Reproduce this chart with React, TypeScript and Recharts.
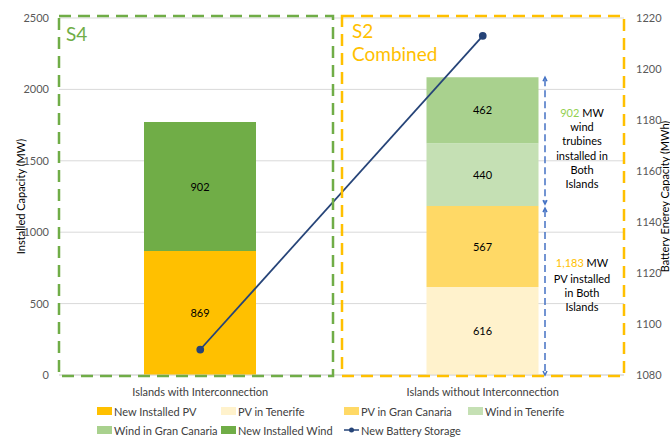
import { ComposedChart, Bar, Line, XAxis, YAxis, CartesianGrid, LabelList } from 'recharts'

const categories = ['Islands with Interconnection', 'Islands without Interconnection']
const newPV = [869, null]
const pvTenerife = [null, 616]
const pvGranCanaria = [null, 567]
const windTenerife = [null, 440]
const windGranCanaria = [null, 462]
const newWind = [902, null]
const battery = [1090, 1213]

const capacityTicks = [0, 500, 1000, 1500, 2000, 2500]
const storageTicks = [1080, 1100, 1120, 1140, 1160, 1180, 1200, 1220]

const W = 670
const H = 437
const PLOT = { left: 59, right: 624, top: 18, bottom: 375 }
const FONT = "Lato, 'Open Sans', sans-serif"

const data = categories.map((name, i) => ({
  name,
  newPV: newPV[i],
  pvTenerife: pvTenerife[i],
  pvGranCanaria: pvGranCanaria[i],
  windTenerife: windTenerife[i],
  windGranCanaria: windGranCanaria[i],
  newWind: newWind[i],
  battery: battery[i],
}))

const series = [
  { key: 'newPV', name: 'New Installed PV', color: '#FFC000' },
  { key: 'pvTenerife', name: 'PV in Tenerife', color: '#FFF2CC' },
  { key: 'pvGranCanaria', name: 'PV in Gran Canaria', color: '#FFD966' },
  { key: 'windTenerife', name: 'Wind in Tenerife', color: '#C5E0B4' },
  { key: 'windGranCanaria', name: 'Wind in Gran Canaria', color: '#A9D18E' },
  { key: 'newWind', name: 'New Installed Wind', color: '#70AD47' },
]
const LINE_COLOR = '#264478'

// legend slots, four on the first row and three on the second
const legendOrder = ['newPV', 'pvTenerife', 'pvGranCanaria', 'windTenerife', 'windGranCanaria', 'newWind', 'battery']
const legendX = [97, 221, 344, 468]

const tickStyle = { fill: '#595959', fontSize: 11, fontFamily: FONT }

const valueLabel = (p: any) => {
  if (!p.value) return null
  return (
    <text x={p.x + p.width / 2} y={p.y + p.height / 2} dy={4} textAnchor="middle" fontSize={11} fill="#000" fontFamily={FONT}>
      {p.value}
    </text>
  )
}

const AxisTitle = ({ viewBox, title, px }: any) => {
  const cy = viewBox.y + viewBox.height / 2
  return (
    <text x={px} y={cy} transform={`rotate(-90 ${px} ${cy})`} textAnchor="middle" dominantBaseline="central" fontSize={11} fill="#000" fontFamily={FONT}>
      {title}
    </text>
  )
}

const toY = (v: number) => PLOT.bottom - (v / 2500) * (PLOT.bottom - PLOT.top)

const windSum = (windTenerife[1] ?? 0) + (windGranCanaria[1] ?? 0)
const pvSum = (pvTenerife[1] ?? 0) + (pvGranCanaria[1] ?? 0)

function Arrow({ x, y1, y2 }: { x: number; y1: number; y2: number }) {
  return (
    <g stroke="#4472C4" strokeWidth={1.5} fill="none">
      <line x1={x} y1={y1 + 2} x2={x} y2={y2 - 2} strokeDasharray="7 4" />
      <path d={`M${x - 2},${y1 + 4} L${x},${y1} L${x + 2},${y1 + 4}`} />
      <path d={`M${x - 2},${y2 - 4} L${x},${y2} L${x + 2},${y2 - 4}`} />
    </g>
  )
}

function Overlay() {
  const t = { fontSize: 11, fontFamily: FONT, fill: '#000', textAnchor: 'middle' as const }
  const ax = 545
  const cx = 582
  return (
    <svg width={W} height={H} style={{ position: 'absolute', left: 0, top: 0, pointerEvents: 'none' }}>
      <rect x={59} y={16} width={274} height={360} fill="none" stroke="#70AD47" strokeWidth={2.5} strokeDasharray="12 7" />
      <rect x={342} y={16} width={282} height={360} fill="none" stroke="#FFC000" strokeWidth={2.5} strokeDasharray="12 7" />
      <text x={66} y={41} fontSize={19} fontFamily={FONT} fill="#70AD47">S4</text>
      <text x={352} y={38} fontSize={19} fontFamily={FONT} fill="#FFC000">S2</text>
      <text x={352} y={61} fontSize={19} fontFamily={FONT} fill="#FFC000">Combined</text>

      <Arrow x={ax} y1={toY(pvSum + windSum)} y2={toY(pvSum) - 2} />
      <Arrow x={ax} y1={toY(pvSum) + 2} y2={toY(0)} />

      <text {...t} x={cx} y={117}>
        <tspan fill="#92D050">{windSum}</tspan> MW
      </text>
      <text {...t} x={cx} y={131}>wind</text>
      <text {...t} x={cx} y={145}>trubines</text>
      <text {...t} x={cx} y={160}>installed in</text>
      <text {...t} x={cx} y={174}>Both</text>
      <text {...t} x={cx} y={188}>Islands</text>

      <text {...t} x={cx} y={267}>
        <tspan fill="#FFC000">{pvSum.toLocaleString('en-US')}</tspan> MW
      </text>
      <text {...t} x={cx} y={283}>PV installed</text>
      <text {...t} x={cx} y={297}>in Both</text>
      <text {...t} x={cx} y={311}>Islands</text>
    </svg>
  )
}

function ChartLegend() {
  return (
    <div style={{ position: 'absolute', left: 0, top: 0, width: W, height: H, pointerEvents: 'none' }}>
      {legendOrder.map((key, i) => {
        const row = i < 4 ? 0 : 1
        const col = i < 4 ? i : i - 4
        const s = series.find((d) => d.key === key)
        const label = s ? s.name : 'New Battery Storage'
        return (
          <div
            key={key}
            style={{
              position: 'absolute',
              left: legendX[col],
              top: 404 + row * 19,
              height: 14,
              display: 'flex',
              alignItems: 'center',
              fontFamily: FONT,
              fontSize: 11,
              color: '#404040',
              whiteSpace: 'nowrap',
            }}
          >
            {s ? (
              <span style={{ width: 15, height: 8, background: s.color, marginRight: 2 }} />
            ) : (
              <svg width={15} height={8} style={{ marginRight: 2 }}>
                <line x1={0} y1={4} x2={15} y2={4} stroke={LINE_COLOR} strokeWidth={1.5} />
                <circle cx={7.5} cy={4} r={2.5} fill={LINE_COLOR} />
              </svg>
            )}
            {label}
          </div>
        )
      })}
    </div>
  )
}

export default function App() {
  return (
    <div style={{ position: 'absolute', left: 0, top: 0, width: W, height: H, background: '#fff', fontFamily: FONT }}>
      <ComposedChart
        width={W}
        height={H}
        data={data}
        margin={{ top: PLOT.top, right: W - PLOT.right - 46, bottom: 44, left: 0 }}
        barSize={112}
      >
        <CartesianGrid yAxisId="left" vertical={false} stroke="#D9D9D9" />
        <XAxis
          dataKey="name"
          height={H - 44 - PLOT.bottom}
          tick={{ ...tickStyle, fill: '#404040' }}
          tickLine={false}
          axisLine={{ stroke: '#D9D9D9' }}
          tickMargin={7}
        />
        <YAxis
          yAxisId="left"
          width={PLOT.left}
          domain={[0, 2500]}
          ticks={capacityTicks}
          tick={tickStyle}
          tickLine={false}
          axisLine={false}
          tickMargin={4}
          label={<AxisTitle title="Installed Capacity (MW)" px={20} />}
        />
        <YAxis
          yAxisId="right"
          orientation="right"
          width={46}
          domain={[1080, 1220]}
          ticks={storageTicks}
          tick={tickStyle}
          tickLine={false}
          axisLine={false}
          tickMargin={6}
          label={<AxisTitle title="Battery Enerey Capacity (MWh)" px={664} />}
        />
        {series.map((s) => (
          <Bar key={s.key} yAxisId="left" dataKey={s.key} name={s.name} stackId="cap" fill={s.color} isAnimationActive={false}>
            <LabelList dataKey={s.key} content={valueLabel} />
          </Bar>
        ))}
        <Line
          yAxisId="right"
          dataKey="battery"
          name="New Battery Storage"
          stroke={LINE_COLOR}
          strokeWidth={1.75}
          dot={{ r: 3, fill: LINE_COLOR, stroke: LINE_COLOR }}
          isAnimationActive={false}
        />
      </ComposedChart>
      <Overlay />
      <ChartLegend />
    </div>
  )
}
